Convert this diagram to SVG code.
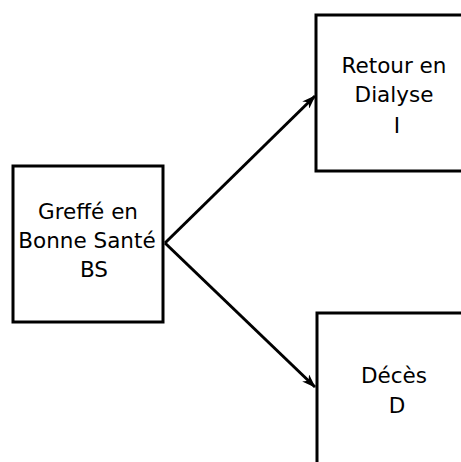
<svg xmlns="http://www.w3.org/2000/svg" width="461" height="462" viewBox="0 0 461 462">
<style>
.box{fill:#fff;stroke:#000;stroke-width:3}
.t{font-family:"DejaVu Sans",sans-serif;font-size:21.5px;fill:#000;text-anchor:middle}
.c{stroke:#000;stroke-width:3;fill:none;marker-end:url(#ah)}
</style>
<defs>
<marker id="ah" markerUnits="userSpaceOnUse" viewBox="0 0 14 10" refX="13" refY="5" markerWidth="14" markerHeight="10" orient="auto">
<path d="M0,0 L14,5 L0,10 L4,5 Z" fill="#000"/>
</marker>
</defs>
<rect width="461" height="462" fill="#fff"/>
<g id="connectors">
<path class="c" d="M165,243 L315,96"/>
<path class="c" d="M165,243 L315,387"/>
</g>
<g id="BS">
<rect class="box" x="13" y="166" width="150" height="156"/>
<text class="t" x="88" y="219">Greffé en</text>
<text class="t" x="87" y="248">Bonne Santé</text>
<text class="t" x="94" y="277">BS</text>
</g>
<g id="I">
<rect class="box" x="316" y="15" width="160" height="156"/>
<text class="t" x="394" y="73">Retour en</text>
<text class="t" x="394" y="102">Dialyse</text>
<text class="t" x="397" y="133">I</text>
</g>
<g id="D">
<rect class="box" x="317" y="313" width="160" height="170"/>
<text class="t" x="394" y="383">Décès</text>
<text class="t" x="397" y="413">D</text>
</g>
</svg>
